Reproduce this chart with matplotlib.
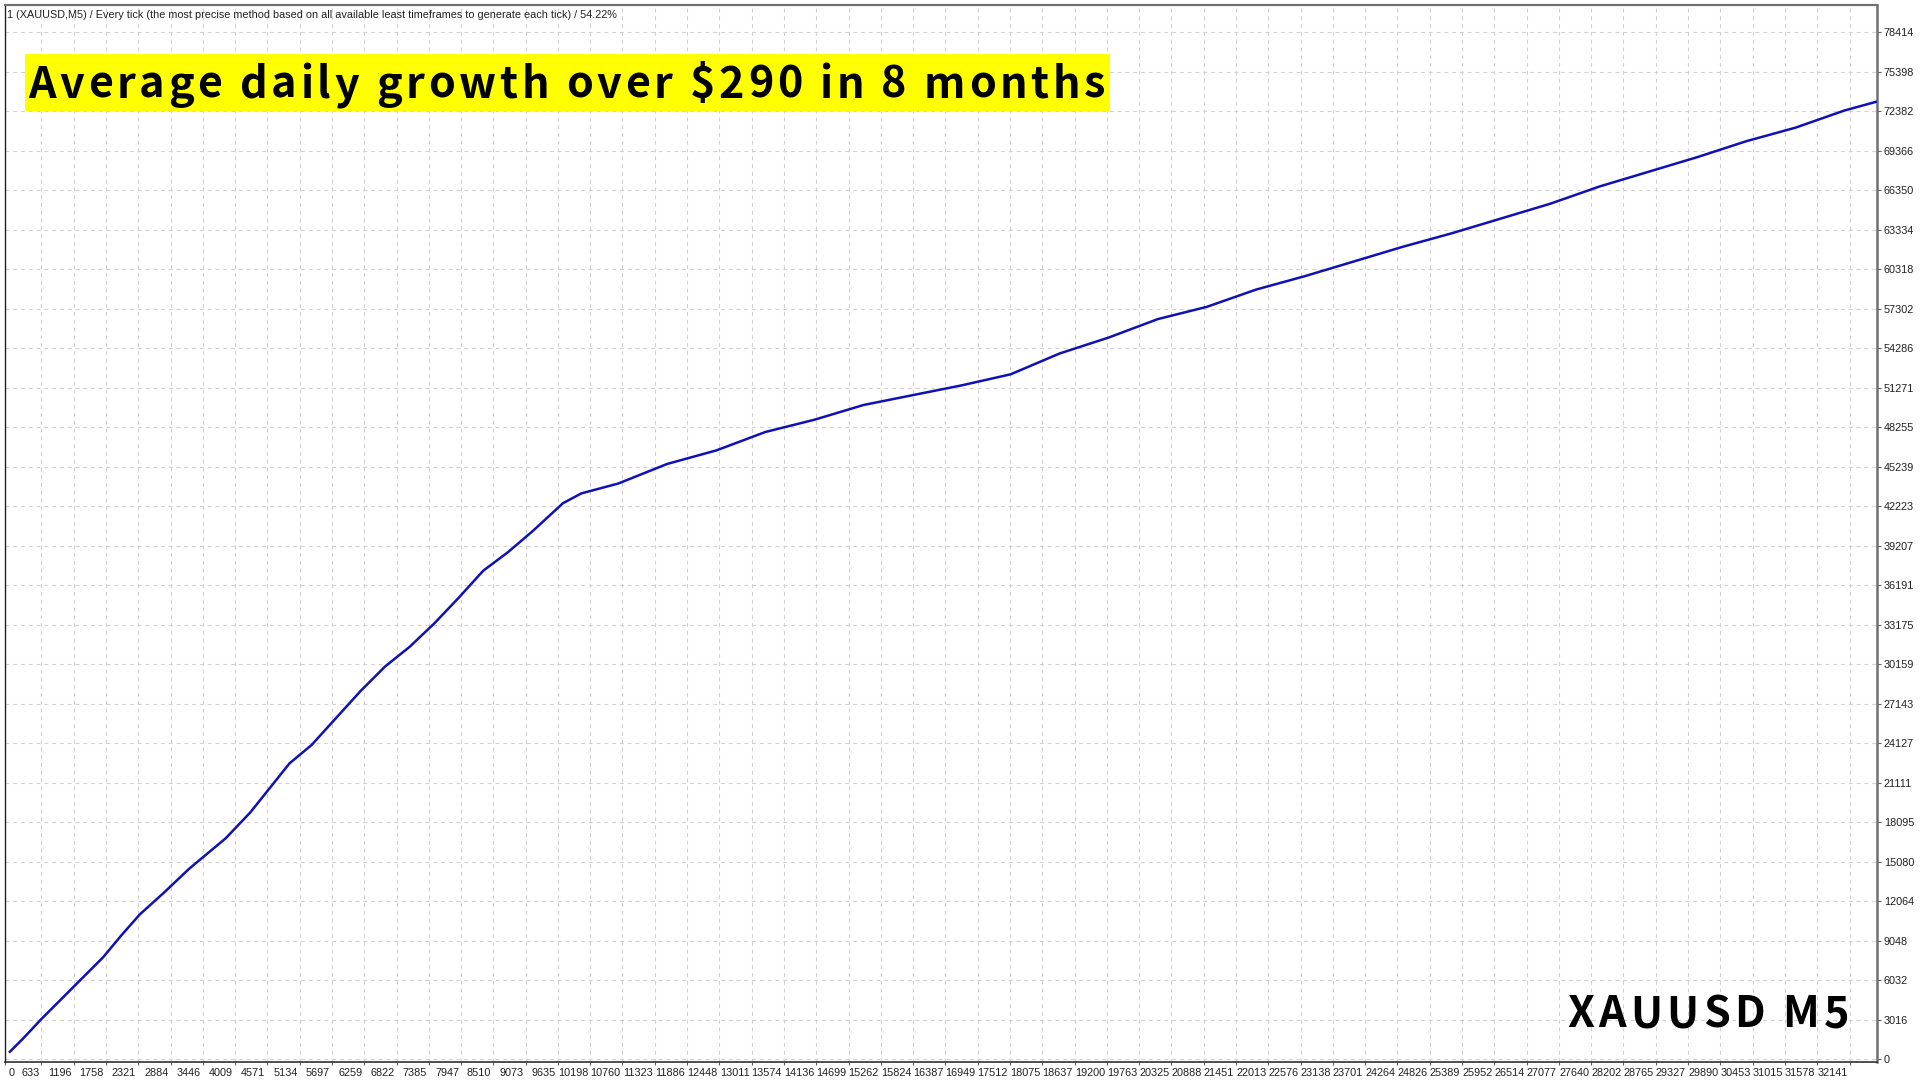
import matplotlib
matplotlib.use("Agg")
import matplotlib.pyplot as plt
from matplotlib.patches import Rectangle
from matplotlib.font_manager import FontProperties
import matplotlib.transforms as mtransforms

# ---------------- data ----------------
balance_x = [85, 320, 641, 962, 1282, 1710, 2030, 2351, 2778, 3206, 3847, 4274, 4701,
             4958, 5343, 5770, 6197, 6625, 7052, 7480, 7907, 8334, 8762, 9189, 9723,
             10044, 10685, 11540, 12395, 13249, 14104, 14959, 15814, 16669, 17523,
             18378, 19233, 20088, 20943, 21797, 22652, 23507, 24362, 25217, 26071,
             26926, 27781, 28636, 29491, 30345, 31200, 32055, 32600]
balance_y = [562, 1593, 3093, 4499, 5904, 7779, 9466, 11059, 12746, 14527, 16870, 18838,
             21181, 22587, 23992, 26054, 28116, 29990, 31490, 33271, 35239, 37301, 38706,
             40300, 42455, 43205, 43955, 45454, 46485, 47891, 48828, 49953, 50703, 51452,
             52296, 53889, 55107, 56513, 57450, 58763, 59794, 60918, 62043, 63074, 64198,
             65323, 66635, 67760, 68884, 70102, 71133, 72447, 73102]

x_tick_labels = ["0", "633", "1196", "1758", "2321", "2884", "3446", "4009", "4571", "5134",
                 "5697", "6259", "6822", "7385", "7947", "8510", "9073", "9635", "10198",
                 "10760", "11323", "11886", "12448", "13011", "13574", "14136", "14699",
                 "15262", "15824", "16387", "16949", "17512", "18075", "18637", "19200",
                 "19763", "20325", "20888", "21451", "22013", "22576", "23138", "23701",
                 "24264", "24826", "25389", "25952", "26514", "27077", "27640", "28202",
                 "28765", "29327", "29890", "30453", "31015", "31578", "32141"]
y_tick_labels = ["0", "3016", "6032", "9048", "12064", "15080", "18095", "21111", "24127",
                 "27143", "30159", "33175", "36191", "39207", "42223", "45239", "48255",
                 "51271", "54286", "57302", "60318", "63334", "66350", "69366", "72382",
                 "75398", "78414"]

header_text = ("1 (XAUUSD,M5) / Every tick (the most precise method based on all available "
               "least timeframes to generate each tick) / 54.22%")
title_text = "Average daily growth over $290 in 8 months"
corner_text = "XAUUSD M5"

# ---------------- figure ----------------
W, H = 1920, 1080
fig = plt.figure(figsize=(W / 100, H / 100), dpi=100)
fig.patch.set_facecolor("white")
ax = fig.add_axes([5 / W, 1 - 1062 / H, (1877 - 5) / W, (1062 - 5) / H])

small_font = ["Liberation Sans Narrow", "Liberation Sans", "DejaVu Sans"]

ax.plot(balance_x, balance_y, color="#1010B8", lw=1.8, solid_joinstyle="round", zorder=3)

ax.set_xlim(0, 32620)
ax.set_ylim(-220, 80500)

xt = [int(v) for v in x_tick_labels]
yt = [int(v) for v in y_tick_labels]
ax.set_xticks(xt)
ax.set_xticklabels(x_tick_labels, family=small_font, fontsize=7.8, color="#202020")
ax.set_yticks(yt)
ax.yaxis.tick_right()
ax.set_yticklabels(y_tick_labels, family=small_font, fontsize=7.8, color="#202020")

ax.tick_params(axis="x", length=2, width=0.8, color="#606060", pad=2)
ax.tick_params(axis="y", length=3, width=0.8, color="#606060", pad=2)

shift_l = mtransforms.ScaledTranslation(-2 / 100, 0, fig.dpi_scale_trans)
for i, lab in enumerate(ax.get_xticklabels()):
    if i == 0:
        lab.set_ha("left")
        lab.set_transform(lab.get_transform() + mtransforms.ScaledTranslation(4 / 100, 0, fig.dpi_scale_trans))
    else:
        lab.set_ha("right")
        lab.set_transform(lab.get_transform() + shift_l)

ax.grid(True, color="#D2D2D2", lw=0.8, linestyle=(0, (3.5, 3.5)))
ax.set_axisbelow(True)

for side, c, w in [("left", "#202020", 1.0), ("bottom", "#303030", 1.2),
                   ("top", "#707070", 1.6), ("right", "#707070", 1.8)]:
    ax.spines[side].set_color(c)
    ax.spines[side].set_linewidth(w)

fig.text(7 / W, 1 - 15 / H, header_text, family=small_font, fontsize=7.8,
         color="#202020", ha="left", va="center")

# ---------------- tracked big texts ----------------
renderer = fig.canvas.get_renderer()


def tracked(s, x0, x1, baseline_y, size, family, weight="bold"):
    prop = FontProperties(family=family, weight=weight, size=size)
    widths = []
    for ch in s:
        w, h, d = renderer.get_text_width_height_descent(ch, prop, ismath=False)
        widths.append(w)
    natural = sum(widths)
    track = (x1 - x0 - natural) / (len(s) - 1)
    if track < 0:
        size = size * (x1 - x0) / natural
        return tracked(s, x0, x1, baseline_y, size, family, weight)
    x = x0
    for ch, w in zip(s, widths):
        fig.text(x / W, 1 - baseline_y / H, ch, fontproperties=prop,
                 color="black", ha="left", va="baseline", zorder=10)
        x += w + track


big_font = ["Noto Sans CJK JP", "DejaVu Sans"]
fig.patches.append(Rectangle((25 / W, 1 - 111 / H), (1110 - 25) / W, (111 - 54) / H,
                             transform=fig.transFigure, facecolor="#FFFF00",
                             edgecolor="none", zorder=1))
tracked(title_text, 28, 1105, 98, 31, big_font, "bold")
tracked(corner_text, 1567, 1849, 1027, 31, big_font, "bold")

fig.savefig("out.png", dpi=100, facecolor="white")
